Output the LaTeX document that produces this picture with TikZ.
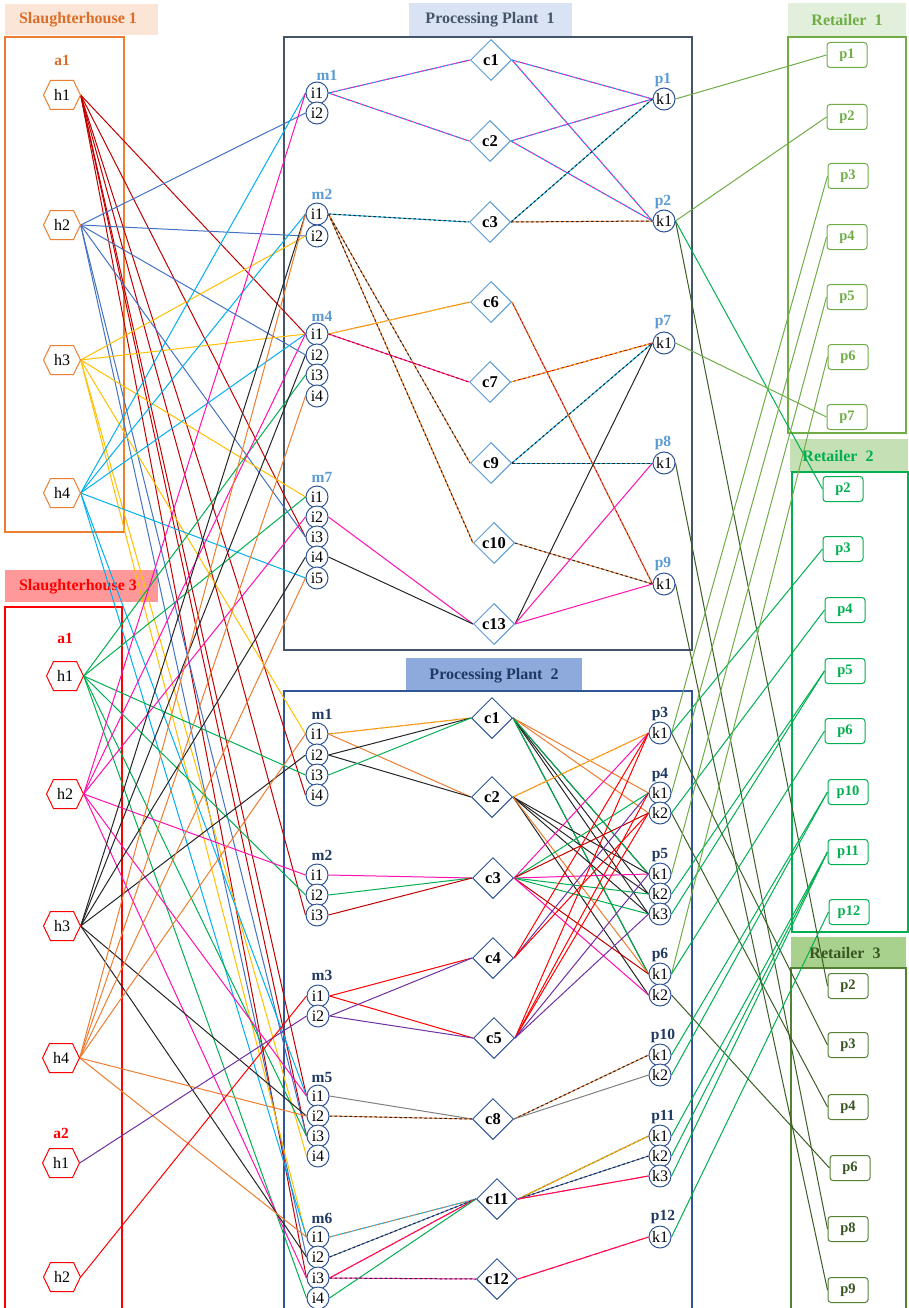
\documentclass[tikz,border=0pt]{standalone}
\usepackage{fontspec}
\setmainfont{Liberation Serif}
\usetikzlibrary{shapes.geometric}
\definecolor{cDR}{HTML}{C00000}
\definecolor{cBL}{HTML}{4472C4}
\definecolor{cGO}{HTML}{FFC000}
\definecolor{cCY}{HTML}{00B0F0}
\definecolor{cGR}{HTML}{00B050}
\definecolor{cMG}{HTML}{FF10B0}
\definecolor{cBK}{HTML}{262626}
\definecolor{cOR}{HTML}{ED7D31}
\definecolor{cPU}{HTML}{7030A0}
\definecolor{cRD}{HTML}{FF0000}
\definecolor{cGY}{HTML}{808080}
\definecolor{cLG}{HTML}{70AD47}
\definecolor{cDG}{HTML}{3B5E26}
\definecolor{cNV}{HTML}{1F3864}
\definecolor{cNB}{HTML}{2F5597}
\definecolor{cLB}{HTML}{5B9BD5}
\definecolor{cSL}{HTML}{44546A}
\definecolor{tA}{HTML}{FBE5D6}
\definecolor{tB}{HTML}{FF9999}
\definecolor{tC}{HTML}{DAE3F3}
\definecolor{tD}{HTML}{8EA9DB}
\definecolor{tE}{HTML}{E2EFDA}
\definecolor{tF}{HTML}{C5E0B4}
\definecolor{tG}{HTML}{A9D18E}
\definecolor{txA}{HTML}{DC6E28}
\definecolor{txG}{HTML}{385723}
\definecolor{bxG}{HTML}{548235}
\pgfdeclarelayer{bg}
\pgfdeclarelayer{edges}
\pgfsetlayers{bg,edges,main}
\newcommand{\hexn}[5]{%
  \filldraw[draw=#4,fill=white,line width=1] ({#2-18.5},#3) -- ({#2-11.5},{#3-14.5}) -- ({#2+11.5},{#3-14.5}) -- ({#2+18.5},#3) -- ({#2+11.5},{#3+14.5}) -- ({#2-11.5},{#3+14.5}) -- cycle;
  \node[hx] (#1) at (#2,#3) {#5};}
\newcommand{\dl}[4]{\draw[e,#1] (#3) -- (#4); \draw[e,#2,dash pattern=on 2.5pt off 2.5pt] (#3) -- (#4);}
\begin{document}
\begin{tikzpicture}[x=1pt,y=-1pt,
  hx/.style={rectangle,minimum width=37,minimum height=29,inner sep=0,font=\fontsize{16}{16}\selectfont},
  ci/.style={circle,draw=cNB,line width=1,minimum size=22,inner sep=0,fill=white,font=\fontsize{16}{16}\selectfont},
  dA/.style={diamond,draw=cLB,line width=1,minimum width=41,minimum height=41,inner sep=0,fill=white,font=\bfseries\fontsize{16.5}{16.5}\selectfont},
  dB/.style={dA,draw=cNB},
  lab/.style={font=\bfseries\fontsize{15.5}{15.5}\selectfont,inner sep=0},
  rb/.style={rectangle,rounded corners=3,line width=1,minimum width=40,minimum height=25,inner sep=0,fill=white,font=\bfseries\fontsize{14.5}{14.5}\selectfont},
  ttl/.style={font=\bfseries\fontsize{16}{16}\selectfont,inner sep=0},
  e/.style={line width=1}]
\useasboundingbox (0,0) rectangle (908,1308);
\begin{pgfonlayer}{bg}
\fill[white] (0,0) rectangle (908,1308);
% titles
\fill[tA] (5,4) rectangle (158,35); \node[ttl,text=txA] (t1) at (78,20) {Slaughterhouse 1};
\fill[tB] (5,570) rectangle (158,602); \node[ttl,text=cRD] (t2) at (78,587) {Slaughterhouse 3};
\fill[tC] (409,3) rectangle (572,36); \node[ttl,text=cSL] (t3) at (490,20) {Processing Plant\ \ 1};
\fill[tD] (406,658) rectangle (582,691); \node[ttl,text=cNV] (t4) at (494,676) {Processing Plant\ \ 2};
\fill[tE] (788,3) rectangle (906,36); \node[ttl,text=cLG] (t5) at (847,20) {Retailer\ \ 1};
\fill[tF] (790,439) rectangle (908,472); \node[ttl,text=cGR] (t6) at (838,456) {Retailer\ \ 2};
\fill[tG] (791,937) rectangle (906,968); \node[ttl,text=txG] (t7) at (845,953) {Retailer\ \ 3};
% boxes
\draw[cOR,line width=1.2] (5,37) rectangle (124,532);
\draw[cRD,line width=1.2] (5,1310) -- (5,607) -- (122,607) -- (122,1310);
\draw[cSL,line width=1.2] (284,37) rectangle (692,650);
\draw[cNB,line width=1.2] (284,1310) -- (284,691) -- (692,691) -- (692,1310);
\draw[cLG,line width=1.2] (788,37) rectangle (906,433);
\draw[cGR,line width=1.2] (792,472) rectangle (908,932);
\draw[bxG,line width=1.2] (791,1310) -- (791,968) -- (906,968) -- (906,1310);
\end{pgfonlayer}
% Slaughterhouse 1
\node[lab,text=txA] (la1) at (62,60) {a1};
\hexn{A1}{62}{95}{cOR}{h1}
\hexn{A2}{62}{225}{cOR}{h2}
\hexn{A3}{62}{360}{cOR}{h3}
\hexn{A4}{62}{493}{cOR}{h4}
% Slaughterhouse 3
\node[lab,text=cRD] (lb1) at (65,638) {a1};
\hexn{B1}{65}{676}{cRD}{h1}
\hexn{B2}{65}{794}{cRD}{h2}
\hexn{B3}{62}{926}{cRD}{h3}
\hexn{B4}{61}{1058}{cRD}{h4}
\node[lab,text=cRD] (lb2) at (61,1133) {a2};
\hexn{B5}{61}{1163}{cRD}{h1}
\hexn{B6}{62}{1277}{cRD}{h2}
% Processing plant 1
\node[lab,text=cLB] (lm1) at (327,75) {m1};
\node[ci] (P1m1i1) at (317,93) {i1};
\node[ci] (P1m1i2) at (317,113) {i2};
\node[lab,text=cLB] (lm2) at (322,194) {m2};
\node[ci] (P1m2i1) at (317,214) {i1};
\node[ci] (P1m2i2) at (317,236) {i2};
\node[lab,text=cLB] (lm4) at (322,316) {m4};
\node[ci] (P1m4i1) at (317,334) {i1};
\node[ci] (P1m4i2) at (317,355) {i2};
\node[ci] (P1m4i3) at (317,375) {i3};
\node[ci] (P1m4i4) at (317,396) {i4};
\node[lab,text=cLB] (lm7) at (322,477) {m7};
\node[ci] (P1m7i1) at (317,497) {i1};
\node[ci] (P1m7i2) at (317,517) {i2};
\node[ci] (P1m7i3) at (317,537) {i3};
\node[ci] (P1m7i4) at (317,557) {i4};
\node[ci] (P1m7i5) at (317,578) {i5};
\node[dA] (P1c1) at (491,60) {c1};
\node[dA] (P1c2) at (490,141) {c2};
\node[dA] (P1c3) at (490,222) {c3};
\node[dA] (P1c6) at (491,302) {c6};
\node[dA] (P1c7) at (490,382) {c7};
\node[dA] (P1c9) at (491,463) {c9};
\node[dA] (P1c10) at (494,543) {c10};
\node[dA] (P1c13) at (494,624) {c13};
\node[lab,text=cLB] (lp1) at (663,80) {p1};
\node[ci] (P1p1) at (664,99) {k1};
\node[lab,text=cLB] (lp2) at (663,202) {p2};
\node[ci] (P1p2) at (664,221) {k1};
\node[lab,text=cLB] (lp7) at (663,322) {p7};
\node[ci] (P1p7) at (664,343) {k1};
\node[lab,text=cLB] (lp8) at (663,443) {p8};
\node[ci] (P1p8) at (664,463) {k1};
\node[lab,text=cLB] (lp9) at (663,564) {p9};
\node[ci] (P1p9) at (664,584) {k1};
% Processing plant 2
\node[lab,text=cNV] (qm1) at (322,714) {m1};
\node[ci] (Qm1i1) at (317,734) {i1};
\node[ci] (Qm1i2) at (317,755) {i2};
\node[ci] (Qm1i3) at (317,775) {i3};
\node[ci] (Qm1i4) at (317,795) {i4};
\node[lab,text=cNV] (qm2) at (322,855) {m2};
\node[ci] (Qm2i1) at (317,875) {i1};
\node[ci] (Qm2i2) at (317,895) {i2};
\node[ci] (Qm2i3) at (317,915) {i3};
\node[lab,text=cNV] (qm3) at (322,975) {m3};
\node[ci] (Qm3i1) at (318,996) {i1};
\node[ci] (Qm3i2) at (318,1016) {i2};
\node[lab,text=cNV] (qm5) at (322,1077) {m5};
\node[ci] (Qm5i1) at (318,1096) {i1};
\node[ci] (Qm5i2) at (318,1116) {i2};
\node[ci] (Qm5i3) at (318,1136) {i3};
\node[ci] (Qm5i4) at (318,1156) {i4};
\node[lab,text=cNV] (qm6) at (322,1218) {m6};
\node[ci] (Qm6i1) at (318,1237) {i1};
\node[ci] (Qm6i2) at (318,1257) {i2};
\node[ci] (Qm6i3) at (318,1278) {i3};
\node[ci] (Qm6i4) at (318,1298) {i4};
\node[dB] (Qc1) at (492,718) {c1};
\node[dB] (Qc2) at (492,797) {c2};
\node[dB] (Qc3) at (493,878) {c3};
\node[dB] (Qc4) at (493,958) {c4};
\node[dB] (Qc5) at (494,1038) {c5};
\node[dB] (Qc8) at (493,1119) {c8};
\node[dB] (Qc11) at (497,1199) {c11};
\node[dB] (Qc12) at (497,1279) {c12};
\node[lab,text=cNV] (qp3) at (660,714) {p3};
\node[ci] (Qp3k1) at (660,733) {k1};
\node[lab,text=cNV] (qp4) at (660,775) {p4};
\node[ci] (Qp4k1) at (660,793) {k1};
\node[ci] (Qp4k2) at (660,813) {k2};
\node[lab,text=cNV] (qp5) at (660,855) {p5};
\node[ci] (Qp5k1) at (660,874) {k1};
\node[ci] (Qp5k2) at (660,894) {k2};
\node[ci] (Qp5k3) at (660,914) {k3};
\node[lab,text=cNV] (qp6) at (660,955) {p6};
\node[ci] (Qp6k1) at (660,974) {k1};
\node[ci] (Qp6k2) at (660,995) {k2};
\node[lab,text=cNV] (qp10) at (663,1036) {p10};
\node[ci] (Qp10k1) at (660,1055) {k1};
\node[ci] (Qp10k2) at (660,1075) {k2};
\node[lab,text=cNV] (qp11) at (663,1117) {p11};
\node[ci] (Qp11k1) at (660,1136) {k1};
\node[ci] (Qp11k2) at (660,1156) {k2};
\node[ci] (Qp11k3) at (660,1176) {k3};
\node[lab,text=cNV] (qp12) at (663,1217) {p12};
\node[ci] (Qp12k1) at (660,1237) {k1};
% Retailers
\begin{scope}[every node/.style={rb,draw=cLG,text=cLG}]
\node (R1p1) at (847,55) {p1};
\node (R1p2) at (847,117) {p2};
\node (R1p3) at (848,176) {p3};
\node (R1p4) at (847,237) {p4};
\node (R1p5) at (847,297) {p5};
\node (R1p6) at (848,357) {p6};
\node (R1p7) at (847,417) {p7};
\end{scope}
\begin{scope}[every node/.style={rb,draw=cGR,text=cGR}]
\node (R2p2) at (843,489) {p2};
\node (R2p3) at (843,549) {p3};
\node (R2p4) at (845,610) {p4};
\node (R2p5) at (845,671) {p5};
\node (R2p6) at (845,731) {p6};
\node (R2p10) at (848,792) {p10};
\node (R2p11) at (848,852) {p11};
\node (R2p12) at (849,912) {p12};
\end{scope}
\begin{scope}[every node/.style={rb,draw=bxG,text=txG}]
\node (R3p2) at (848,986) {p2};
\node (R3p3) at (848,1045) {p3};
\node (R3p4) at (848,1107) {p4};
\node (R3p6) at (850,1168) {p6};
\node (R3p8) at (848,1229) {p8};
\node (R3p9) at (848,1290) {p9};
\end{scope}
% ---------- edges ----------
\begin{pgfonlayer}{edges}
\foreach \t in {P1m4i1,P1m7i3,Qm1i4,Qm2i3,Qm5i1,Qm5i3,Qm6i3} \draw[e,cDR] (A1.east) -- (\t.west);
\foreach \t in {P1m1i2,P1m2i2,P1m4i2,P1m7i3,Qm5i3,Qm6i2} \draw[e,cBL] (A2.east) -- (\t.west);
\foreach \t in {P1m2i2,P1m4i1,P1m7i1,Qm1i1,Qm5i4,Qm6i1} \draw[e,cGO] (A3.east) -- (\t.west);
\foreach \t in {P1m1i1,P1m2i1,P1m4i1,P1m7i5,Qm5i1,Qm6i1} \draw[e,cCY] (A4.east) -- (\t.west);
\foreach \t in {P1m4i3,P1m7i1,Qm1i3,Qm2i2,Qm5i3,Qm6i4} \draw[e,cGR] (B1.east) -- (\t.west);
\foreach \t in {P1m1i1,P1m4i1,P1m7i2,Qm2i1,Qm5i1,Qm6i3} \draw[e,cMG] (B2.east) -- (\t.west);
\foreach \t in {P1m2i1,P1m4i2,P1m7i4,Qm1i2,Qm5i2,Qm6i2} \draw[e,cBK] (B3.east) -- (\t.west);
\foreach \t in {P1m2i1,P1m4i4,P1m7i5,Qm1i1,Qm5i2,Qm6i1} \draw[e,cOR] (B4.east) -- (\t.west);
\draw[e,cPU] (B5.east) -- (Qm3i2.west);
\draw[e,cRD] (B6.east) -- (Qm3i1.west);
% PP1 internal
\dl{cMG}{cCY}{P1m1i1.east}{P1c1.west}
\dl{cMG}{cCY}{P1m1i1.east}{P1c2.west}
\dl{cMG}{cCY}{P1c1.east}{P1p1.west}
\dl{cMG}{cCY}{P1c1.east}{P1p2.west}
\dl{cMG}{cCY}{P1c2.east}{P1p1.west}
\dl{cMG}{cCY}{P1c2.east}{P1p2.west}
\dl{cCY}{cBK}{P1m2i1.east}{P1c3.west}
\dl{cCY}{cBK}{P1c3.east}{P1p1.west}
\dl{cOR}{cBK}{P1c3.east}{P1p2.west}
\dl{cOR}{cBK}{P1m2i1.east}{P1c9.west}
\dl{cOR}{cBK}{P1m2i1.east}{P1c10.west}
\dl{cOR}{cBK}{P1c10.east}{P1p9.west}
\dl{cCY}{cBK}{P1c9.east}{P1p7.west}
\dl{cCY}{cBK}{P1c9.east}{P1p8.west}
\dl{cOR}{cGO}{P1m4i1.east}{P1c6.west}
\dl{cDR}{cOR}{P1c6.east}{P1p9.west}
\dl{cMG}{cDR}{P1m4i1.east}{P1c7.west}
\dl{cDR}{cGO}{P1c7.east}{P1p7.west}
\draw[e,cMG] (P1m7i2.east) -- (P1c13.west);
\draw[e,cBK] (P1m7i4.east) -- (P1c13.west);
\draw[e,cBK] (P1c13.east) -- (P1p7.west);
\draw[e,cMG] (P1c13.east) -- (P1p8.west);
\draw[e,cMG] (P1c13.east) -- (P1p9.west);
% PP2 internal left
\dl{cOR}{cGO}{Qm1i1.east}{Qc1.west}
\draw[e,cOR] (Qm1i1.east) -- (Qc2.west);
\draw[e,cBK] (Qm1i2.east) -- (Qc1.west);
\draw[e,cBK] (Qm1i2.east) -- (Qc2.west);
\draw[e,cGR] (Qm1i3.east) -- (Qc1.west);
\draw[e,cMG] (Qm2i1.east) -- (Qc3.west);
\draw[e,cGR] (Qm2i2.east) -- (Qc3.west);
\draw[e,cDR] (Qm2i3.east) -- (Qc3.west);
\draw[e,cRD] (Qm3i1.east) -- (Qc4.west);
\draw[e,cRD] (Qm3i1.east) -- (Qc5.west);
\draw[e,cPU] (Qm3i2.east) -- (Qc4.west);
\draw[e,cPU] (Qm3i2.east) -- (Qc5.west);
\draw[e,cGY] (Qm5i1.east) -- (Qc8.west);
\dl{cOR}{cBK}{Qm5i2.east}{Qc8.west}
\dl{cCY}{cOR}{Qm6i1.east}{Qc11.west}
\dl{cBL}{cBK}{Qm6i2.east}{Qc11.west}
\dl{cRD}{cMG}{Qm6i3.east}{Qc11.west}
\draw[e,cGR] (Qm6i4.east) -- (Qc11.west);
\dl{cMG}{cBK}{Qm6i3.east}{Qc12.west}
% PP2 internal right
\draw[e,cOR] (Qc1.east) -- (Qp4k1.west);
\draw[e,cOR] (Qc1.east) -- (Qp4k2.west);
\foreach \t in {Qp5k1,Qp5k2,Qp5k3,Qp6k1} \draw[e,cBK] (Qc1.east) -- (\t.west);
\foreach \t in {Qp5k1,Qp6k1} \draw[e,cGR] (Qc1.east) -- (\t.west);
\dl{cOR}{cGO}{Qc2.east}{Qp3k1.west}
\foreach \t in {Qp5k1,Qp5k2,Qp5k3,Qp6k2} \draw[e,cBK] (Qc2.east) -- (\t.west);
\draw[e,cOR] (Qc2.east) -- (Qp6k1.west);
\draw[e,cMG] (Qc3.east) -- (Qp3k1.west);
\draw[e,cGR] (Qc3.east) -- (Qp4k1.west);
\draw[e,cDR] (Qc3.east) -- (Qp4k2.west);
\draw[e,cMG] (Qc3.east) -- (Qp5k1.west);
\draw[e,cGR] (Qc3.east) -- (Qp5k2.west);
\draw[e,cGR] (Qc3.east) -- (Qp5k3.west);
\draw[e,cDR] (Qc3.east) -- (Qp6k1.west);
\draw[e,cMG] (Qc3.east) -- (Qp6k2.west);
\draw[e,cRD] (Qc4.east) -- (Qp3k1.west);
\draw[e,cPU] (Qc4.east) -- (Qp4k1.west);
\draw[e,cRD] (Qc4.east) -- (Qp4k2.west);
\draw[e,cRD] (Qc5.east) -- (Qp3k1.west);
\draw[e,cRD] (Qc5.east) -- (Qp4k1.west);
\draw[e,cRD] (Qc5.east) -- (Qp4k2.west);
\draw[e,cPU] (Qc5.east) -- (Qp5k1.west);
\draw[e,cPU] (Qc5.east) -- (Qp5k3.west);
\dl{cOR}{cBK}{Qc8.east}{Qp10k1.west}
\draw[e,cGY] (Qc8.east) -- (Qp10k2.west);
\draw[e,cGR] (Qc11.east) -- (Qp11k1.west);
\dl{cOR}{cGO}{Qc11.east}{Qp11k1.west}
\dl{cBL}{cBK}{Qc11.east}{Qp11k2.west}
\dl{cRD}{cMG}{Qc11.east}{Qp11k3.west}
\dl{cRD}{cMG}{Qc12.east}{Qp12k1.west}
% to retailers
\draw[e,cLG] (P1p1.east) -- (R1p1.west);
\draw[e,cLG] (P1p2.east) -- (R1p2.west);
\draw[e,cGR] (P1p2.east) -- (R2p2.west);
\draw[e,cDG] (P1p2.east) -- (R3p2.west);
\draw[e,cLG] (P1p7.east) -- (R1p7.west);
\draw[e,cDG] (P1p8.east) -- (R3p8.west);
\draw[e,cDG] (P1p9.east) -- (R3p9.west);
\draw[e,cLG] (Qp3k1.east) -- (R1p3.west);
\draw[e,cGR] (Qp3k1.east) -- (R2p3.west);
\draw[e,cDG] (Qp3k1.east) -- (R3p3.west);
\draw[e,cLG] (Qp4k1.east) -- (R1p4.west);
\draw[e,cGR] (Qp4k2.east) -- (R2p4.west);
\draw[e,cDG] (Qp4k2.east) -- (R3p4.west);
\draw[e,cLG] (Qp5k1.east) -- (R1p5.west);
\draw[e,cGR] (Qp5k2.east) -- (R2p5.west);
\draw[e,cGR] (Qp5k3.east) -- (R2p5.west);
\draw[e,cLG] (Qp6k1.east) -- (R1p6.west);
\draw[e,cGR] (Qp6k1.east) -- (R2p6.west);
\draw[e,cDG] (Qp6k2.east) -- (R3p6.west);
\draw[e,cGR] (Qp10k1.east) -- (R2p10.west);
\draw[e,cGR] (Qp10k2.east) -- (R2p10.west);
\draw[e,cGR] (Qp11k1.east) -- (R2p11.west);
\draw[e,cGR] (Qp11k2.east) -- (R2p11.west);
\draw[e,cGR] (Qp11k3.east) -- (R2p11.west);
\draw[e,cGR] (Qp12k1.east) -- (R2p12.west);
\end{pgfonlayer}
\end{tikzpicture}
\end{document}
